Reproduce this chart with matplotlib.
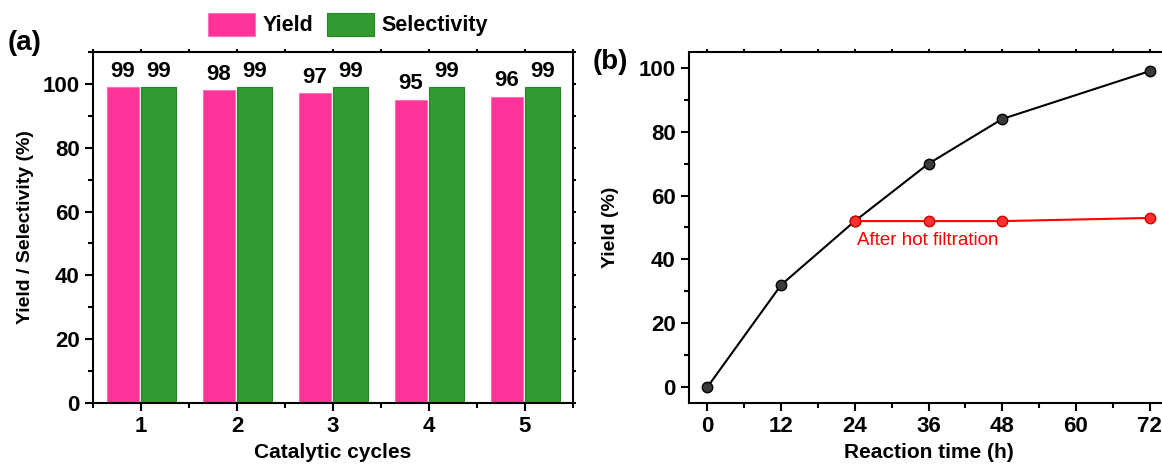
import numpy as np
import matplotlib
matplotlib.use("Agg")
import matplotlib.pyplot as plt
from matplotlib.ticker import MultipleLocator

plt.rcParams['font.family'] = ['Liberation Sans', 'DejaVu Sans']
plt.rcParams['font.weight'] = 'bold'

# panel (a) data
cycles = [1, 2, 3, 4, 5]
yield_vals = [99, 98, 97, 95, 96]
select_vals = [99, 99, 99, 99, 99]

# panel (b) data
time_h = [0, 12, 24, 36, 48, 72]
yield_time = [0, 32, 52, 70, 84, 99]
filt_time = [24, 36, 48, 72]
filt_yield = [52, 52, 52, 53]

pink = '#FF3399'
green = '#339933'

W, H = 1162, 470
fig = plt.figure(figsize=(W / 100, H / 100), dpi=100)
# axes placed in pixel coords (left, top, right, bottom)
ax1 = fig.add_axes([93 / W, 1 - 403 / H, 480 / W, 351 / H])
ax2 = fig.add_axes([689 / W, 1 - 403 / H, 479 / W, 351 / H])

# ---- (a) bar chart
x = np.array(cycles)
b1 = ax1.bar(x - 0.19, yield_vals, 0.33, color=pink, edgecolor='#ff6fb7', linewidth=0.8, label='Yield')
b2 = ax1.bar(x + 0.18, select_vals, 0.36, color=green, edgecolor='#1f8a1f', linewidth=0.8, label='Selectivity')
for xi, v in zip(x, yield_vals):
    ax1.text(xi - 0.19, v + 3.3, str(v), ha='center', va='baseline', fontsize=16, fontweight='bold')
for xi, v in zip(x, select_vals):
    ax1.text(xi + 0.18, v + 3.3, str(v), ha='center', va='baseline', fontsize=16, fontweight='bold')
ax1.set_xlim(0.5, 5.5)
ax1.set_ylim(0, 110)
ax1.set_xticks(cycles)
ax1.xaxis.set_minor_locator(MultipleLocator(0.5))
ax1.yaxis.set_major_locator(MultipleLocator(20))
ax1.yaxis.set_minor_locator(MultipleLocator(10))
ax1.set_xlabel('Catalytic cycles', fontsize=15, fontweight='bold', labelpad=4)
ax1.set_ylabel('Yield / Selectivity (%)', fontsize=14, fontweight='bold', labelpad=6)
fig.legend(handles=[b1, b2], loc='center', bbox_to_anchor=(348 / W, 1 - 24.5 / H), ncol=2,
           frameon=False, fontsize=15.5, handlelength=2.2, handleheight=1.3, columnspacing=0.6,
           handletextpad=0.35, borderaxespad=0)
fig.text(8 / W, 1 - 43 / H, '(a)', fontsize=20, fontweight='bold', va='center')

# ---- (b) line chart
ax2.plot(time_h, yield_time, '-o', color='black', markersize=7.5, markerfacecolor='#3a3a3a',
         markeredgecolor='black', linewidth=1.5)
ax2.plot(filt_time, filt_yield, '-o', color='red', markersize=7.5, markerfacecolor='#ff3030',
         markeredgecolor='#d00000', linewidth=1.5)
ax2.text(24.4, 45.8, 'After hot filtration', color='red', fontsize=13.5, fontweight='normal',
         ha='left', va='center')
ax2.set_xlim(-3, 75)
ax2.set_ylim(-5, 105)
ax2.set_xticks([0, 12, 24, 36, 48, 60, 72])
ax2.xaxis.set_minor_locator(MultipleLocator(6))
ax2.yaxis.set_major_locator(MultipleLocator(20))
ax2.yaxis.set_minor_locator(MultipleLocator(10))
ax2.set_xlabel('Reaction time (h)', fontsize=15, fontweight='bold', labelpad=4)
ax2.set_ylabel('Yield (%)', fontsize=14, fontweight='bold', labelpad=14)
fig.text(593 / W, 1 - 62 / H, '(b)', fontsize=20, fontweight='bold', va='center')

for ax in (ax1, ax2):
    for s in ax.spines.values():
        s.set_linewidth(1.5)
    ax.tick_params(which='both', direction='out', width=1.5, labelsize=16)
    ax.tick_params(which='major', length=6)
    ax.tick_params(which='minor', length=3.5)
    # small mirrored ticks on top / right
    ax.tick_params(axis='x', which='both', top=True, labeltop=False)
    ax.tick_params(axis='y', which='both', right=True, labelright=False)
    for lab in ax.get_xticklabels() + ax.get_yticklabels():
        lab.set_fontweight('bold')

# mirrored ticks are short
for ax in (ax1, ax2):
    for t in ax.xaxis.get_major_ticks() + ax.xaxis.get_minor_ticks():
        t.tick2line.set_markersize(2.5)
    for t in ax.yaxis.get_major_ticks() + ax.yaxis.get_minor_ticks():
        t.tick2line.set_markersize(2.5)

fig.savefig('out.png', dpi=100)
